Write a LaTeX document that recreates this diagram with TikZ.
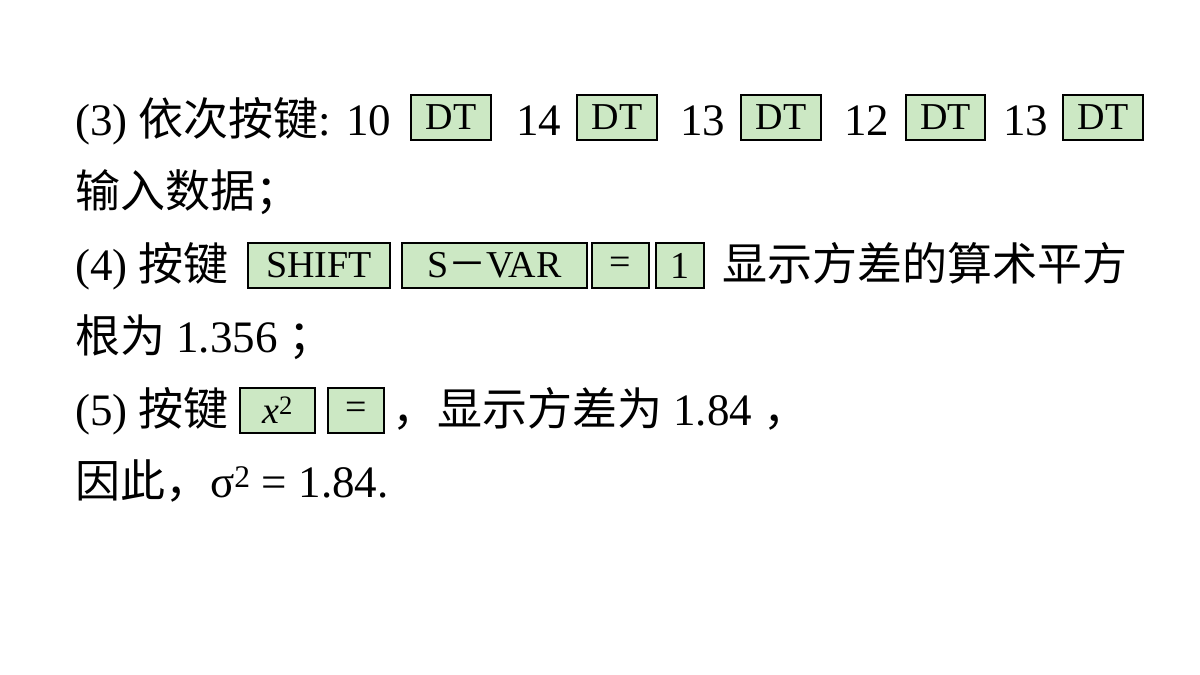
\documentclass[tikz,border=0pt]{standalone}
\usepackage{fontspec}
\setmainfont{Liberation Serif}
\newfontfamily\cjk{Noto Sans CJK SC}
\usetikzlibrary{positioning}
\definecolor{keygreen}{RGB}{204,232,196}

\begin{document}
\begin{tikzpicture}[x=1pt,y=-1pt,
  txt/.style={anchor=base west,inner sep=0pt,font=\fontsize{45}{45}\selectfont},
  keybox/.style={draw=black,fill=keygreen,line width=1.2pt,inner sep=0pt,font=\fontsize{38}{38}\selectfont}]
\useasboundingbox (0,0) rectangle (1200,675);
% row 1
\node[txt] (r1a) at (75,135) {(3) {\cjk 依次按键}: 10};
\node[keybox,minimum width=80,minimum height=45] (k1) at (451,117.5) {DT};
\node[txt] (r1b) at (516,135) {14};
\node[keybox,minimum width=80,minimum height=45] (k2) at (617,117.5) {DT};
\node[txt] (r1c) at (680,135) {13};
\node[keybox,minimum width=80,minimum height=45] (k3) at (781,117.5) {DT};
\node[txt] (r1d) at (844,135) {12};
\node[keybox,minimum width=79,minimum height=45] (k4) at (945.5,117.5) {DT};
\node[txt] (r1e) at (1003,135) {13};
\node[keybox,minimum width=80,minimum height=45] (k5) at (1103,117.5) {DT};
% row 2
\node[txt] (r2) at (75,207) {\cjk 输入数据；};
% row 3
\node[txt] (r3a) at (75,280) {(4) {\cjk 按键}};
\node[keybox,minimum width=142,minimum height=45] (k6) at (319,265.5) {SHIFT};
\node[keybox,minimum width=185,minimum height=45] (k7) at (494.5,265.5) {S{\cjk －}VAR};
\node[keybox,minimum width=57,minimum height=45] (k8) at (620.5,265.5) {=};
\node[keybox,minimum width=48,minimum height=45] (k9) at (680,265.5) {1};
\node[txt] (r3b) at (722,280) {\cjk 显示方差的算术平方};
% row 4
\node[txt] (r4) at (75,352) {{\cjk 根为} 1.356 {\cjk ；}};
% row 5
\node[txt] (r5a) at (75,425) {(5) {\cjk 按键}};
\node[keybox,minimum width=75,minimum height=45] (k10) at (277.5,410.5) {\textit{x}\textsuperscript{2}};
\node[keybox,minimum width=56,minimum height=45] (k11) at (356,410.5) {=};
\node[txt] (r5b) at (392,425) {{\cjk ，显示方差为} 1.84 {\cjk ，}};
% row 6
\node[txt] (r6) at (75,497) {{\cjk 因此，}σ\textsuperscript{2} = 1.84.};
\end{tikzpicture}
\end{document}
